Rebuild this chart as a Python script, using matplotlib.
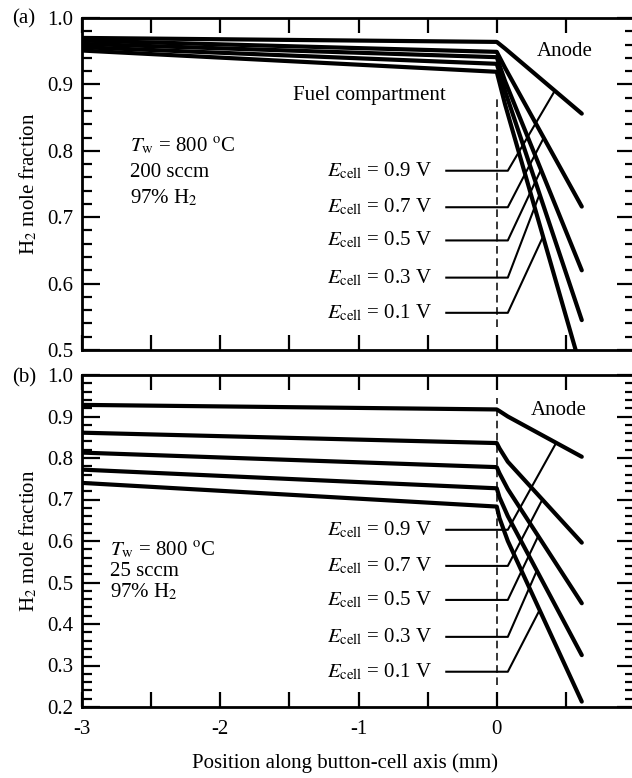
import numpy as np
import matplotlib
matplotlib.use('Agg')
import matplotlib.pyplot as plt
from matplotlib.ticker import FuncFormatter, MultipleLocator

plt.rcParams['font.family'] = ['Liberation Serif', 'DejaVu Serif']
plt.rcParams['mathtext.fontset'] = 'stix'
plt.rcParams['axes.unicode_minus'] = False
plt.rcParams['font.size'] = 15

# cell voltages (V)
voltages = [0.9, 0.7, 0.5, 0.3, 0.1]

# (a) 200 sccm : position (mm) and H2 mole fraction
x_a = [-3.0, 0.0, 0.06, 0.615]
h2_a = {
    0.9: [0.970, 0.964, 0.954, 0.856],
    0.7: [0.966, 0.949, 0.925, 0.716],
    0.5: [0.961, 0.941, 0.905, 0.620],
    0.3: [0.956, 0.931, 0.890, 0.545],
    0.1: [0.951, 0.919, 0.870, 0.468],
}

# (b) 25 sccm
x_b = [-3.0, 0.0, 0.02, 0.08, 0.615]
h2_b = {
    0.9: [0.928, 0.917, 0.913, 0.900, 0.803],
    0.7: [0.861, 0.836, 0.823, 0.791, 0.596],
    0.5: [0.813, 0.778, 0.763, 0.725, 0.450],
    0.3: [0.772, 0.727, 0.705, 0.660, 0.325],
    0.1: [0.740, 0.683, 0.655, 0.600, 0.213],
}

# label heights (mole fraction) and where the leader meets each curve (mm)
label_y_a = [0.770, 0.715, 0.665, 0.609, 0.556]
leader_x_a = [0.42, 0.34, 0.32, 0.31, 0.335]
label_y_b = [0.627, 0.540, 0.458, 0.369, 0.285]
leader_x_b = [0.43, 0.33, 0.30, 0.29, 0.31]

fig = plt.figure(figsize=(6.32, 7.78), dpi=100)
W, H = 632.0, 778.0
# right spine sits just outside the picture, as in the original
ax_a = fig.add_axes([82 / W, 1 - 350 / H, 553 / W, 332 / H])
ax_b = fig.add_axes([82 / W, 1 - 707 / H, 553 / W, 332 / H])


def style(ax, ylo, show_xlabels):
    ax.set_xlim(-3, 1)
    ax.set_ylim(ylo, 1.0)
    ax.xaxis.set_major_locator(MultipleLocator(0.5))
    ax.yaxis.set_major_locator(MultipleLocator(0.1))
    ax.yaxis.set_minor_locator(MultipleLocator(0.02))
    ax.yaxis.set_major_formatter(FuncFormatter(lambda v, p: '%.1f' % v))
    if show_xlabels:
        ax.xaxis.set_major_formatter(FuncFormatter(
            lambda v, p: '%d' % round(v) if abs(v - round(v)) < 1e-6 else ''))
    else:
        ax.set_xticklabels([])
    ax.tick_params(axis='x', which='major', direction='in', top=True, bottom=True,
                   length=11, width=1.6, pad=9)
    ax.tick_params(axis='y', which='major', direction='in', left=True, right=True,
                   length=13, width=1.6, pad=6)
    ax.tick_params(axis='y', which='minor', direction='in', left=True, right=True,
                   length=7, width=1.6)
    for s in ax.spines.values():
        s.set_linewidth(2.0)
    ax.set_ylabel(r'H$_2$ mole fraction', labelpad=6)


def draw(ax, xs, data, label_y, leader_x):
    for v in voltages:
        ax.plot(xs, data[v], color='black', lw=3.0, solid_capstyle='round',
                solid_joinstyle='round')
    for v, ly, lx in zip(voltages, label_y, leader_x):
        ey = np.interp(lx, xs, data[v])
        ax.plot([-0.365, 0.08, lx], [ly, ly, ey], color='black', lw=1.5)
        ax.text(-0.47, ly, r'$E_{\mathrm{cell}}$ = %.1f V' % v, ha='right',
                va='center')


style(ax_a, 0.5, False)
style(ax_b, 0.2, True)

draw(ax_a, x_a, h2_a, label_y_a, leader_x_a)
draw(ax_b, x_b, h2_b, label_y_b, leader_x_b)

ax_a.plot([0, 0], [0.535, 0.882], color='black', lw=1.1, ls=(0, (5, 3)))
ax_b.plot([0, 0], [0.253, 0.945], color='black', lw=1.1, ls=(0, (5, 3)))

ax_a.text(0.495, 0.950, 'Anode', ha='center', va='center')
ax_b.text(0.448, 0.914, 'Anode', ha='center', va='center')
ax_a.text(-1.476, 0.884, 'Fuel compartment', ha='left', va='center')

ax_a.text(-2.65, 0.807, r'$T_{\mathrm{w}}$ = 800 $^{\mathrm{o}}$C', ha='left', va='center')
ax_a.text(-2.65, 0.768, '200 sccm', ha='left', va='center')
ax_a.text(-2.65, 0.729, r'97% H$_2$', ha='left', va='center')

ax_b.text(-2.80, 0.578, r'$T_{\mathrm{w}}$ = 800 $^{\mathrm{o}}$C', ha='left', va='center')
ax_b.text(-2.80, 0.526, '25 sccm', ha='left', va='center')
ax_b.text(-2.80, 0.478, r'97% H$_2$', ha='left', va='center')

fig.text(24 / W, 1 - 19 / H, '(a)', ha='center', va='center')
fig.text(24 / W, 1 - 378 / H, '(b)', ha='center', va='center')

ax_b.set_xlabel('Position along button-cell axis (mm)')
ax_b.xaxis.set_label_coords(0.476, -0.138)

fig.savefig('out.png', dpi=100)
